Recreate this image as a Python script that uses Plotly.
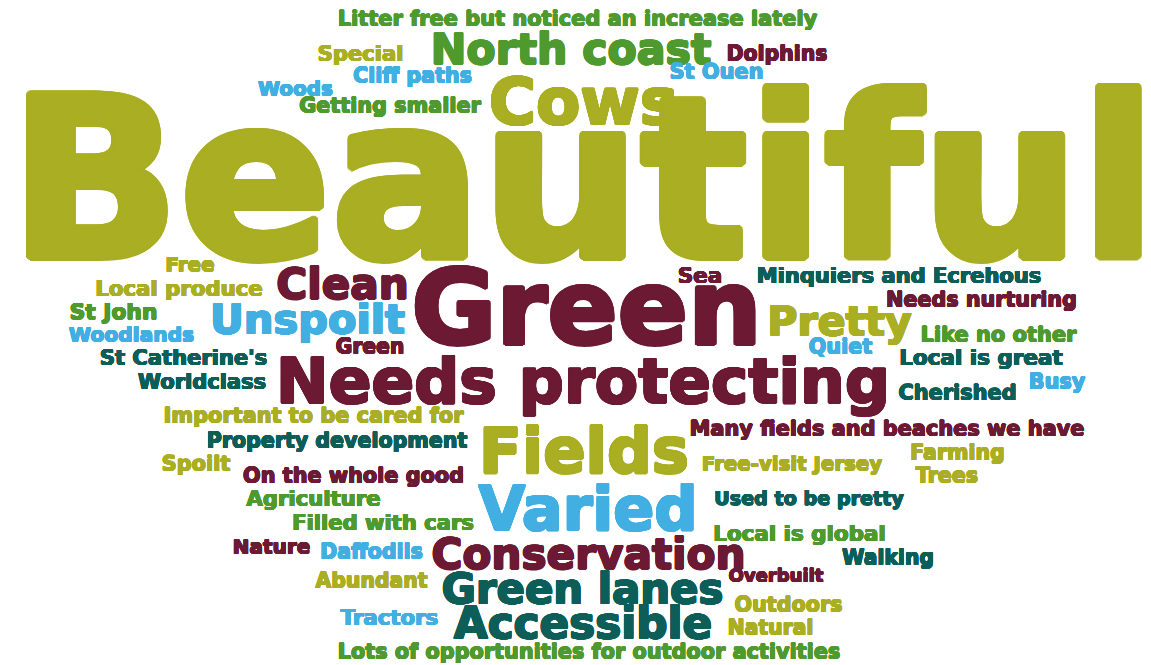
import math
import plotly.graph_objects as go

# ---- data: words and their colour groups ----
words = [
    "Litter free but noticed an increase lately", "Special", "North coast", "Dolphins",
    "Cliff paths", "St Ouen", "Woods", "Getting smaller", "Cows", "Beautiful",
    "Free", "Local produce", "Clean", "Green", "Sea", "Minquiers and Ecrehous",
    "Needs nurturing", "St John", "Unspoilt", "Pretty", "Woodlands", "Like no other",
    "Green", "Quiet", "St Catherine's", "Local is great", "Needs protecting",
    "Worldclass", "Busy", "Cherished", "Important to be cared for",
    "Property development", "Many fields and beaches we have", "Fields", "Spoilt",
    "Farming", "Free-visit Jersey", "On the whole good", "Trees", "Agriculture",
    "Used to be pretty", "Varied", "Filled with cars", "Local is global", "Nature",
    "Daffodils", "Conservation", "Walking", "Overbuilt", "Abundant", "Green lanes",
    "Outdoors", "Tractors", "Accessible", "Natural",
    "Lots of opportunities for outdoor activities",
]
groups = [
    "green", "olive", "green", "maroon",
    "blue", "blue", "blue", "green", "olive", "olive",
    "olive", "olive", "maroon", "maroon", "maroon", "teal",
    "maroon", "green", "blue", "olive", "blue", "green",
    "maroon", "blue", "teal", "teal", "maroon",
    "teal", "blue", "teal", "olive",
    "teal", "maroon", "olive", "olive",
    "olive", "olive", "maroon", "olive", "green",
    "teal", "blue", "green", "green", "maroon",
    "blue", "maroon", "teal", "maroon", "olive", "teal",
    "olive", "blue", "teal", "olive",
    "green",
]

# ---- layout of the cloud (pixel space): left x, right x, visual centre y ----
x0 = [340, 318, 432, 727,
      353, 670, 258, 300, 490, 15,
      165, 96, 277, 413, 678, 758,
      887, 70, 211, 768, 69, 921,
      336, 809, 101, 900, 279,
      138, 1029, 899, 165,
      208, 691, 480, 162,
      910, 702, 244, 915, 247,
      715, 478, 293, 714, 233,
      320, 433, 842, 729, 316, 443,
      735, 340, 455, 728,
      340]
x1 = [815, 403, 710, 827,
      472, 763, 333, 480, 677, 1151,
      215, 262, 408, 760, 722, 1040,
      1076, 157, 404, 911, 194, 1076,
      404, 872, 266, 1062, 887,
      266, 1085, 1016, 462,
      466, 1083, 688, 230,
      1005, 882, 463, 979, 380,
      903, 698, 473, 885, 310,
      423, 744, 934, 823, 427, 722,
      842, 439, 711, 813,
      838]
cy = [18, 53, 48, 53,
      75, 71, 88, 105, 100, 173,
      264, 288, 283, 305, 275, 275,
      299, 311, 318, 320, 334, 334,
      346, 346, 357, 357, 379,
      381, 381, 392, 415,
      440, 428, 449, 463,
      452, 463, 475, 475, 498,
      498, 507, 522, 533, 546,
      551, 553, 557, 575, 580, 588,
      604, 617, 622, 627,
      651]

palette = {
    "olive": "#A9AE23",
    "maroon": "#6C1A34",
    "blue": "#42AFE3",
    "teal": "#0D5E59",
    "green": "#4E9A2F",
}

# approximate advance widths (em) of DejaVu Sans Bold, used to fit each word to its box
ADV = {
    " ": 0.348, "a": 0.675, "b": 0.716, "c": 0.595, "d": 0.716, "e": 0.678, "f": 0.435,
    "g": 0.716, "h": 0.712, "i": 0.343, "j": 0.343, "k": 0.665, "l": 0.343, "m": 1.042,
    "n": 0.712, "o": 0.687, "p": 0.716, "q": 0.716, "r": 0.493, "s": 0.595, "t": 0.478,
    "u": 0.712, "v": 0.652, "w": 0.920, "x": 0.647, "y": 0.652, "z": 0.582,
    "A": 0.774, "B": 0.762, "C": 0.731, "D": 0.832, "E": 0.683, "F": 0.683, "G": 0.821,
    "H": 0.836, "I": 0.372, "J": 0.372, "K": 0.775, "L": 0.638, "M": 0.995, "N": 0.836,
    "O": 0.850, "P": 0.733, "Q": 0.850, "R": 0.770, "S": 0.720, "T": 0.684, "U": 0.813,
    "V": 0.774, "W": 1.111, "X": 0.770, "Y": 0.726, "Z": 0.725, "'": 0.275, "-": 0.415,
}


def em_width(s):
    return sum(ADV.get(ch, 0.65) for ch in s)


def heavy_shadow(color, size):
    # thicken the strokes a little so the bold face reads as a black weight
    d = 0.017 * size
    parts = []
    for k in range(16):
        ang = 2 * math.pi * k / 16
        parts.append(f"{d * math.cos(ang):.2f}px {d * math.sin(ang):.2f}px 0 {color}")
    return ", ".join(parts)


fig = go.Figure()
for w, g, a, b, c in zip(words, groups, x0, x1, cy):
    size = 1.01 * (b - a) / em_width(w)
    col = palette[g]
    fig.add_trace(go.Scatter(
        x=[(a + b) / 2], y=[c + 0.125 * size], mode="text", text=[w],
        textposition="middle center",
        textfont=dict(family="DejaVu Sans", size=size, color=col, weight="bold",
                      shadow=heavy_shadow(col, size)),
        hoverinfo="skip", cliponaxis=False, showlegend=False,
    ))

# the page body has an 8px margin, so the axes are offset to keep screen pixels aligned
OFF = 8
fig.update_layout(
    width=1151, height=665,
    margin=dict(l=0, r=0, t=0, b=0),
    paper_bgcolor="white", plot_bgcolor="white",
    showlegend=False,
    xaxis=dict(range=[OFF, 1151 + OFF], visible=False, fixedrange=True),
    yaxis=dict(range=[665 + OFF, OFF], visible=False, fixedrange=True),
)
fig.write_html("out.html", config={"displayModeBar": False})
